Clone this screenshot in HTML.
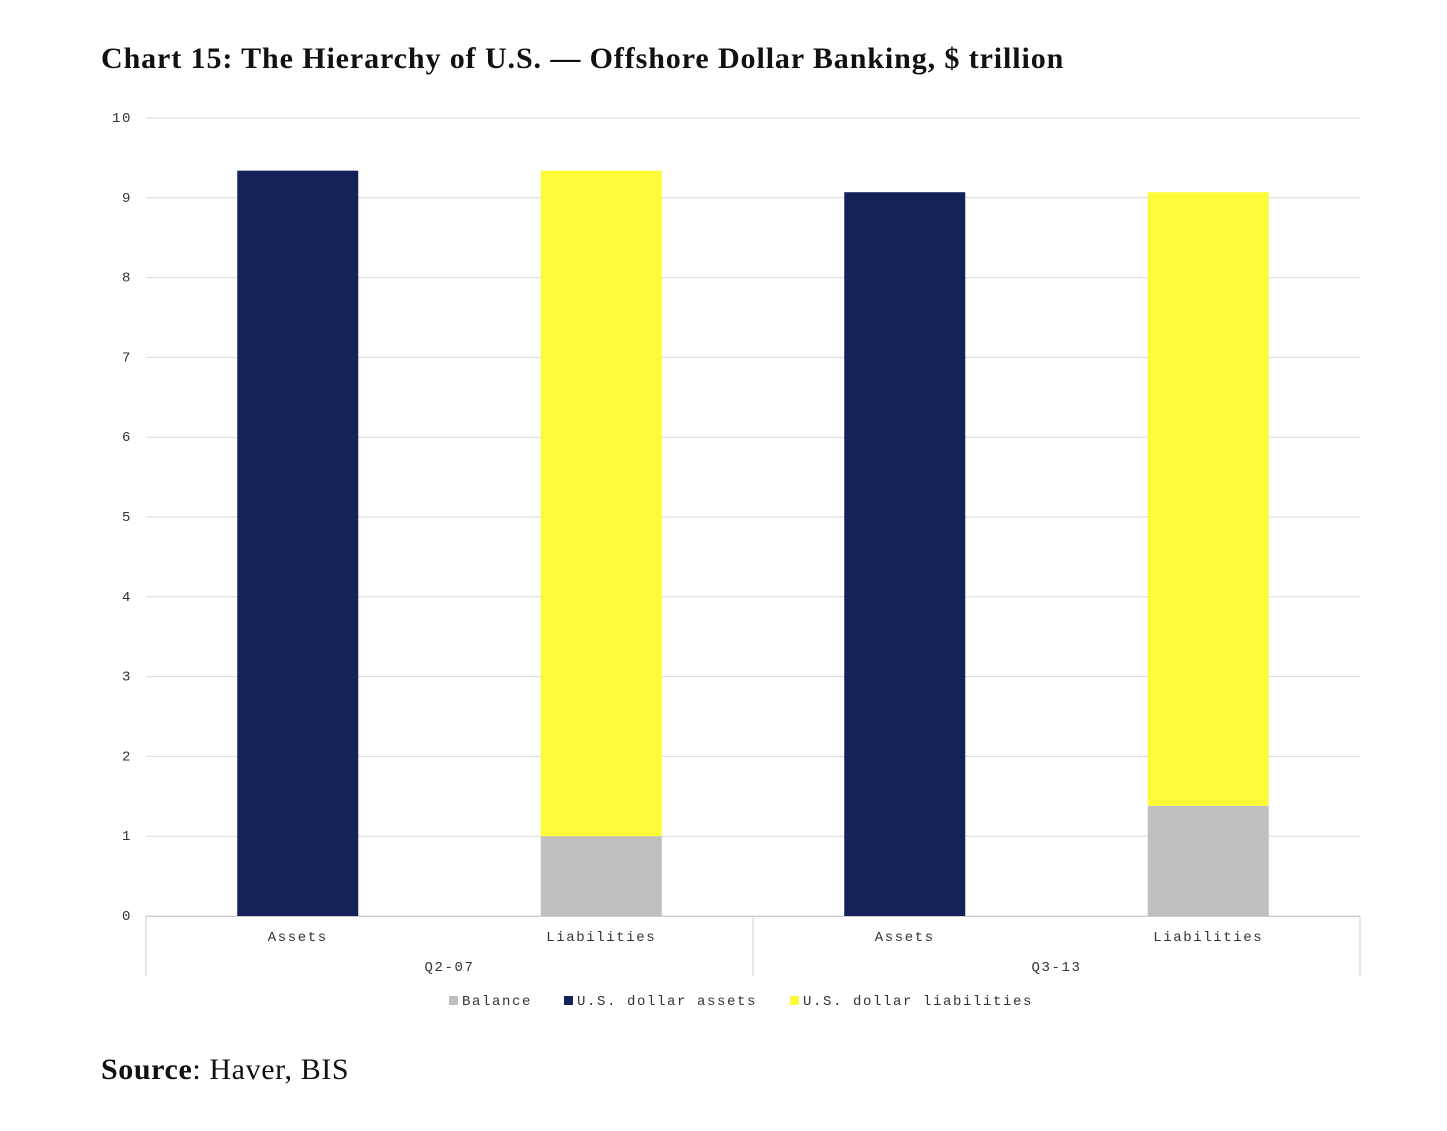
<!DOCTYPE html>
<html><head><meta charset="utf-8"><style>
body{margin:0;background:#fff;width:1447px;height:1131px;overflow:hidden;position:relative;font-family:"Liberation Serif",serif}
#title{position:absolute;left:101px;top:42px;font-size:30px;letter-spacing:0.9px;font-weight:bold;color:#111;white-space:nowrap}
#source{position:absolute;left:101px;top:1053px;font-size:30px;letter-spacing:0.6px;color:#111}
svg{position:absolute;left:0;top:0}
svg text{font-family:"Liberation Mono",monospace;font-size:14px;letter-spacing:1.6px;fill:#333}
</style></head><body>
<div id="title">Chart 15: The Hierarchy of U.S. — Offshore Dollar Banking, $ trillion</div>
<svg id="chart" width="1447" height="1131"></svg>
<div id="source"><b>Source</b>: Haver, BIS</div>
<script>
const categories=["Assets","Liabilities","Assets","Liabilities"];
const groups=["Q2-07","Q3-13"];
const balance=[0,1.0,0,1.38];
const usdAssets=[9.34,0,9.07,0];
const usdLiabilities=[0,8.34,0,7.69];
const yTicks=[0,1,2,3,4,5,6,7,8,9,10];
const NS="http://www.w3.org/2000/svg";
const svg=document.getElementById('chart');
const L=146,R=1360,T=118,B=916,ymax=10;
const y=v=>B-(B-T)*v/ymax;
const cw=(R-L)/categories.length;
const xc=i=>L+cw*(i+0.5);
function mk(t,a){const e=document.createElementNS(NS,t);for(const k in a)e.setAttribute(k,a[k]);svg.appendChild(e);return e;}
yTicks.forEach(t=>{
 const g=mk('line',{x1:L,x2:R,y1:y(t),y2:y(t),stroke:'#d9d9d9','stroke-width':1});
 
 
 const tx=mk('text',{x:132,y:y(t)+4,'text-anchor':'end'});tx.textContent=t;
 
 
});
const bw=121;
categories.forEach((c,i)=>{
 let base=0;
 [[balance,'#bfbfbf','bar-balance'],[usdAssets,'#15225a','bar-usd-assets'],[usdLiabilities,'#fbfb3a','bar-usd-liabilities']].forEach(([arr,col,nm])=>{
  const v=arr[i];if(v<=0)return;
  const r=mk('rect',{x:xc(i)-bw/2,y:y(base+v),width:bw,height:y(base)-y(base+v),fill:col});
  
  
  base+=v;
 });
 const t=mk('text',{x:xc(i),y:941,'text-anchor':'middle'});t.textContent=c;
 
 
});
mk('line',{x1:L,x2:R,y1:B+0.5,y2:B+0.5,stroke:'#ccc'});
const gw=(R-L)/groups.length;
for(let k=0;k<=groups.length;k++){mk('line',{x1:L+gw*k,x2:L+gw*k,y1:B,y2:976,stroke:'#ccc'});}
groups.forEach((g,k)=>{const t=mk('text',{x:L+gw*(k+0.5),y:971,'text-anchor':'middle'});t.textContent=g;
 
 });
const leg=[['Balance','#bfbfbf',449],['U.S. dollar assets','#15225a',564],['U.S. dollar liabilities','#fbfb3a',790]];
leg.forEach(([n,c,x])=>{
 const r=mk('rect',{x:x,y:996,width:9,height:9,fill:c});
 
 
 const t=mk('text',{x:x+13,y:1005});t.textContent=n;
 
 
});
</script>
</body></html>
